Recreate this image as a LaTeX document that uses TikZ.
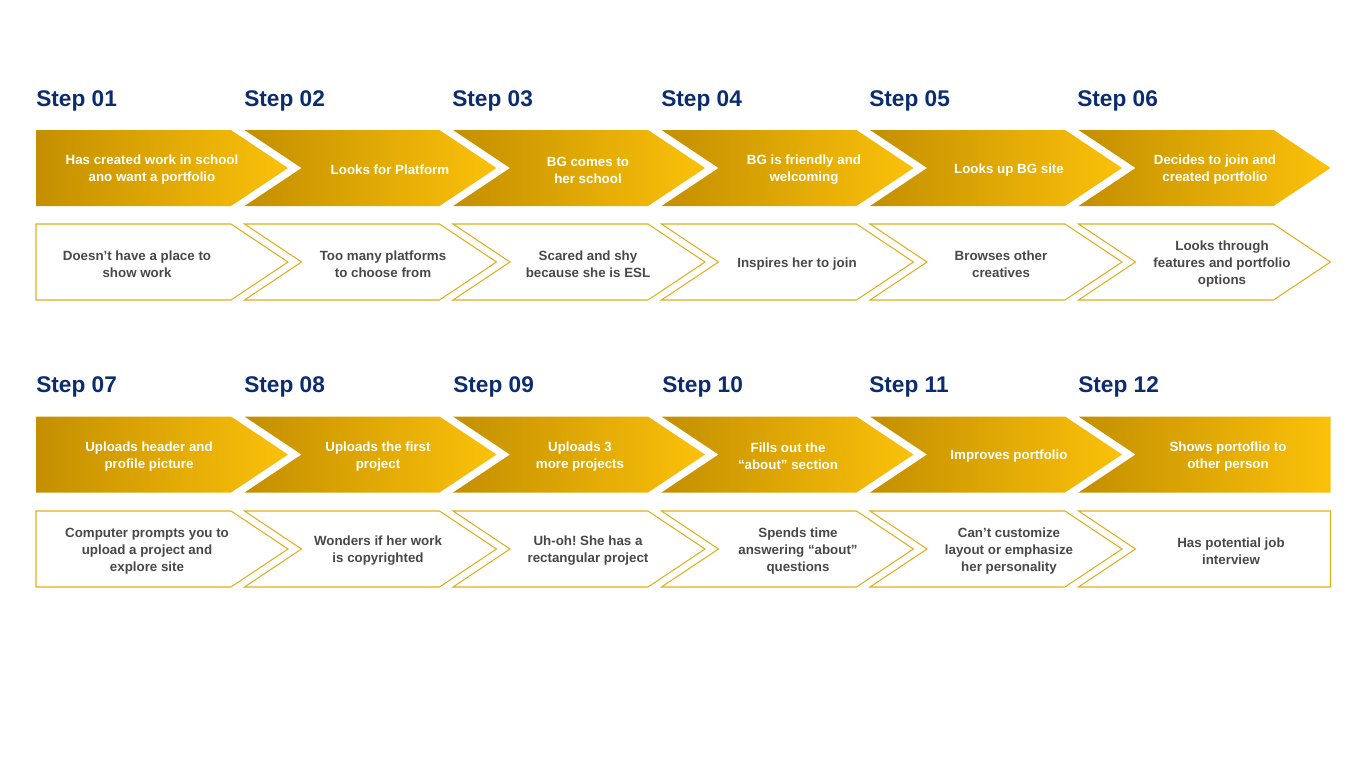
\documentclass[tikz,border=0pt]{standalone}
\usepackage{fontspec}
\setmainfont{Liberation Sans}
\usetikzlibrary{positioning}
\frenchspacing
\definecolor{stepblue}{HTML}{0B2C6E}
\definecolor{golddark}{HTML}{C48F00}
\definecolor{goldlight}{HTML}{FBC10A}
\definecolor{goldline}{HTML}{E2AF1C}
\definecolor{textgrey}{HTML}{484848}
\tikzset{
  steplabel/.style={anchor=west, inner sep=0pt, text=stepblue,
    font=\fontsize{17}{20}\selectfont\bfseries},
  goldarrow/.style={left color=golddark, right color=goldlight},
  linearrow/.style={draw=goldline, line width=0.8pt, fill=white},
  goldtext/.style={align=center, inner sep=0pt, text=white,
    font=\fontsize{10}{12.75}\selectfont\bfseries},
  greytext/.style={align=center, inner sep=0pt, text=textgrey,
    font=\fontsize{10}{12.75}\selectfont\bfseries},
}
% style, left x, top y, kind (0 first, 1 middle, 2 flat end)
\newcommand\stepshape[4]{%
  \ifcase#4
    \path[#1] (#2,#3) -- ++(195,0) -- ++(57,38) -- ++(-57,38) -- ++(-195,0) -- cycle;
  \or
    \path[#1] (#2,#3) -- ++(195,0) -- ++(57,38) -- ++(-57,38) -- ++(-195,0) -- ++(57,-38) -- cycle;
  \or
    \path[#1] (#2,#3) -- ++(252,0) -- ++(0,76) -- ++(-252,0) -- ++(57,-38) -- cycle;
  \fi}

\begin{document}
\begin{tikzpicture}[x=0.75pt, y=-0.75pt]
  \useasboundingbox (0,0) rectangle (1366,768);

  % arrow shapes
  \foreach \i in {0,...,5} {
    \pgfmathsetmacro\xs{36+208.5*\i}
    \pgfmathtruncatemacro\kindA{\i==0 ? 0 : 1}
    \pgfmathtruncatemacro\kindB{\i==0 ? 0 : (\i==5 ? 2 : 1)}
    \stepshape{goldarrow}{\xs}{130}{\kindA}
    \stepshape{linearrow}{\xs}{224}{\kindA}
    \stepshape{goldarrow}{\xs}{416.5}{\kindB}
    \stepshape{linearrow}{\xs}{511}{\kindB}
  }

  % step labels
  \foreach \n/\x in {1/36, 2/244, 3/452, 4/661, 5/869, 6/1077}
    \node[steplabel] (s\n) at (\x,100.5) {Step 0\n};
  \foreach \n/\x/\t in {7/36/07, 8/244/08, 9/453/09, 10/662/10, 11/869/11, 12/1078/12}
    \node[steplabel] (s\n) at (\x,386.5) {Step \t};

  % first row
  \foreach \n/\x/\t in {
      1/152/{Has created work in school\\ano want a portfolio},
      2/390/{Looks for Platform},
      3/588/{BG comes to\\her school},
      4/804/{BG is friendly and\\welcoming},
      5/1009/{Looks up BG site},
      6/1215/{Decides to join and\\created portfolio}}
    \node[goldtext] (g\n) at (\x,170) {\t};
  \foreach \n/\x/\t in {
      1/137/{Doesn’t have a place to\\show work},
      2/383/{Too many platforms\\to choose from},
      3/588/{Scared and shy\\because she is ESL},
      4/797/{Inspires her to join},
      5/1001/{Browses other\\creatives},
      6/1222/{Looks through\\features and portfolio\\options}}
    \node[greytext] (w\n) at (\x,264) {\t};

  % second row
  \foreach \n/\x/\t in {
      7/149/{Uploads header and\\profile picture},
      8/378/{Uploads the first\\project},
      9/580/{Uploads 3\\more projects},
      10/788/{Fills out the\\“about” section},
      11/1009/{Improves portfolio},
      12/1228/{Shows portoflio to\\other person}}
    \node[goldtext] (g\n) at (\x,456.5) {\t};
  \foreach \n/\x/\t in {
      7/147/{Computer prompts you to\\upload a project and\\explore site},
      8/378/{Wonders if her work\\is copyrighted},
      9/588/{Uh-oh! She has a\\rectangular project},
      10/798/{Spends time\\answering “about”\\questions},
      11/1009/{Can’t customize\\layout or emphasize\\her personality},
      12/1231/{Has potential job\\interview}}
    \node[greytext] (w\n) at (\x,551) {\t};
\end{tikzpicture}
\end{document}
